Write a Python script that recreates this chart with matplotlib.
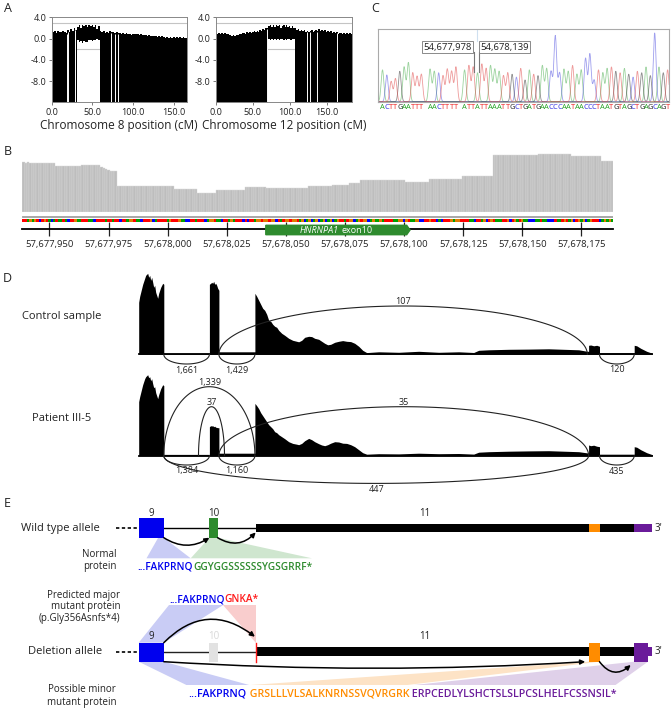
import numpy as np
import matplotlib.pyplot as plt
from matplotlib.patches import Rectangle, Polygon, FancyArrowPatch
from matplotlib.ticker import FormatStrFormatter

plt.rcParams['font.family'] = ['Open Sans', 'DejaVu Sans']

# ---------------- A: chromosome plots (one value per 2 cM) ----------------
chr8_cm = np.arange(0, 167, 2)
chr8_top = [1.5, 1.2, 1.4, 1.1, 1.5, 1.3, 1.2, 1.4, 1.3, 1.0, 1.6, 1.3, 1.8, 1.5, 1.9, 1.7,
            2.2, 2.5, 1.9, 2.6, 2.3, 2.6, 2.1, 2.5, 2.4, 2.6, 2.2, 2.5, 1.8, 2.4,
            1.5, 1.2, 1.4, 1.1, 1.3, 1.0, 1.4, 1.2, 1.3, 1.1,
            1.2, 1.0, 1.1, 0.9, 1.0, 0.8, 1.0, 0.8, 0.9, 0.7,
            0.9, 0.8, 0.9, 0.8, 0.7, 0.8, 0.6, 0.7, 0.6, 0.5,
            0.6, 0.5, 0.5, 0.4, 0.5, 0.3, 0.4, 0.3, 0.4, 0.3,
            0.2, 0.3, 0.2, 0.3, 0.2, 0.3, 0.2, 0.3, 0.2, 0.3,
            0.2, 0.3, 0.2, 0.2]
chr8_gap = (31, 59)
chr8_gap_floor = [-0.3, -0.7, -0.5, -0.8, -0.4, -0.6, -0.7, -0.3, -0.2, -0.5, -0.2, -0.3, -0.1, -0.2]
chr8_breaks = [18.3, 19.5, 28.5, 73, 78, 82]

chr12_cm = np.arange(0, 185, 2)
chr12_top = [1.1, 0.9, 1.0, 0.8, 1.1, 0.9, 1.0, 0.9, 0.8, 0.7, 0.6, 0.5, 0.6, 0.5, 0.6, 0.7, 0.8, 0.9,
             1.0, 1.1, 0.9, 1.2, 1.0, 1.3, 1.1, 1.2, 1.4, 1.2, 1.5, 1.3, 1.6, 1.4, 1.8, 1.6, 2.0, 1.9,
             2.4, 2.6, 2.1, 2.5, 2.2, 2.6, 2.3, 2.5, 2.0, 2.4, 2.6, 2.2, 2.5, 2.1, 2.4, 2.0, 2.3, 1.9,
             1.9, 1.6, 1.8, 1.5, 1.7, 1.4, 1.6, 1.3, 1.5, 1.2, 1.4, 1.6, 1.3, 1.5, 1.7, 1.4, 1.8, 1.5,
             1.7, 1.4, 1.6, 1.3, 1.5, 1.2, 1.4, 1.1, 1.3, 1.0, 1.2, 0.9, 1.1, 1.0, 0.9, 1.1, 0.9, 1.0,
             0.8, 1.0, 0.9]
chr12_gap = (71, 107)
chr12_gap_floor = [-0.1, -0.2, -0.1, -0.3, -0.1, -0.2, -0.1, -0.2, -0.1, -0.1, -0.2, -0.1,
                   -0.2, -0.1, -0.1, -0.2, -0.1, -0.1]
chr12_breaks = [69, 124, 128, 137.5, 163.7]

# ---------------- B: coverage over the deletion ----------------
cov_start = 57677939
cov_counts = [1, 1, 1, 11, 11, 8, 1, 1, 1, 1, 3,
              10, 14, 10, 8, 12, 9, 18, 10, 7, 5, 19, 10, 14, 13,
              19, 14, 13, 5]
cov_values = [50, 49, 50, 49, 46, 47, 45, 44, 43, 42, 41.5,
              26.5, 26, 23, 19.5, 22, 25, 24, 26, 27, 29.5, 32, 30.6, 33, 36,
              57, 58.5, 56, 51]
ref_seq = ("TTAGAGTCTG" "TACATAATAC" "TTGAATTTAA" "CTTTTATTAT" "TCTTAGGTAA"
           "CTTTGCATTT" "TAGTTTGAAC" "CTTATTTCAG" "GTAACTTAGA" "TTTCTCTTAG"
           "GTGGTGGCTA" "TGGTGGTAGC" "AGCAGCAGCA" "GCAGTTATGG" "CAGTGGCAGA"
           "AGATTTTAAG" "GCGTAAGGCC" "TTGTTCACTT" "TGAGGTTTTA" "ACTTAGCTGT"
           "AAATTGCTGA" "TGAACCCAAT" "AACCCTAATG" "TAGCTGAGCA" "GTTTCAGAGA")
ticks_B = [57677950, 57677975, 57678000, 57678025, 57678050,
           57678075, 57678100, 57678125, 57678150, 57678175]
exon10_B = (57678041.5, 57678102.5)

# ---------------- C: Sanger trace across the junction ----------------
seq_C = "ACTTGAATTT AACTTTT ATTATTAAATTGCTGATGAACCCAATAACCCTAATGTAGCTGAGCAGT"
peak_C = [.44, .37, .28, .32, .42, .48, .54, .40, .35, .38, 0,
          .45, .42, .40, .36, .45, .42, .48, 0,
          .44, .50, .48, .40, .52, .46, .50, .45, .42, .36, .40, .38, .34, .46, .30, .44,
          .38, .36, .50, .46, .42, .91, .40, .45, .42, .50, .38, .44, .60, .66, .30, .44,
          .40, .46, .48, .42, .40, .46, .38, .34, .42, .40, .48, .36, .95, .48, .40, .44]
junction_C = ['54,677,978', '54,678,139']

# ---------------- D: sashimi (x = position from exon 9 start) ----------------
cov_x = [0, 0, 1, 2, 3, 4, 5, 6, 7, 8, 9, 10, 11, 12, 13, 14, 15, 16, 17, 18, 19, 20, 21, 22, 23, 24, 25.1, 25.1,
         70.7, 70.7, 72, 73, 74, 75, 76, 77, 78, 79, 80.2, 80.2,
         116.2, 116.2, 118, 120, 122, 124, 126, 128, 130, 132, 134, 136, 138, 140,
         143, 146, 150, 154, 158, 160, 163, 166, 170, 173, 176, 180, 183, 186, 189, 192, 196, 200,
         204, 208, 212, 216, 220, 224, 228,
         240, 260, 280, 300, 320, 335, 340, 350, 370, 390, 410, 425, 440, 448.6, 449.9, 449.9,
         452, 455, 458, 460.8, 460.8, 495.5, 495.5, 498, 502, 508, 513.7, 513.7]
ctrl_cov = [0, 52, 58, 62, 66, 70, 73, 76, 79, 80, 81, 77, 79, 74, 77, 72, 67, 69, 62, 59, 56, 61, 64, 67, 69, 71, 70, 1,
            1, 70, 71, 72, 71, 73, 70, 71, 69, 66, 64, 2.5,
            2.5, 61, 58, 54, 50, 46, 44, 40, 34, 33, 30, 28, 27, 24,
            21, 19, 16, 14, 13, 12.5, 14, 17, 18, 17.7, 16, 15, 13, 11, 9.5, 10, 12, 13,
            13.7, 13, 12.7, 11, 8, 4, 1.7,
            2.5, 2, 3, 2, 2.5, 1.8, 4, 4.5, 5, 5.2, 5.5, 5, 4.5, 3, 3, 9,
            9.3, 8.5, 9, 8, 1.5, 1.5, 9, 8.5, 6, 3, 1, 0]
pat_cov = [0, 54, 59, 63, 67, 71, 74, 77, 79, 80, 81, 78, 79, 75, 77, 72, 68, 69, 63, 60, 57, 61, 64, 67, 69, 71, 70, 1.3,
           1.3, 29, 30, 29.7, 30, 29, 29.5, 28.5, 28.3, 28, 28, 2.5,
           2.5, 52.3, 50, 47, 43, 40, 37, 34, 31, 29, 27, 24, 23, 21,
           19, 17, 14, 12.3, 11.5, 11, 12.3, 15, 17.3, 16, 14, 12, 10.7, 10, 11, 12.5, 14,
           13.7, 12.5, 12.3, 11, 9, 6, 3, 1.5,
           2, 1.8, 2.5, 2, 2.2, 1.6, 3.5, 4, 4.5, 4.8, 5, 4.5, 4, 2.8, 2.8, 10.7,
           10, 10.5, 9.5, 9, 1.5, 1.5, 9, 8.5, 6, 3, 1, 0]
# junctions: start, end, read count
ctrl_junc = [(25.1, 70.7, '1,661'), (80.2, 116.2, '1,429'), (460.8, 495.5, '120'), (80.2, 448.6, '107')]
ctrl_arc = [(-1, 9.7), (-1, 9.7), (-1, 9.7), (1, 48.3)]
pat_junc = [(25.1, 70.7, '1,384'), (80.2, 116.2, '1,160'), (460.8, 495.5, '435'),
            (25.1, 116.2, '1,339'), (59.8, 85.8, '37'), (80.2, 449.9, '35'), (25.1, 449.9, '447')]
pat_arc = [(-1, 9.3), (-1, 9.3), (-1, 9.3), (1, 69), (1, 49), (1, 49), (-1, 27.7)]

# ---------------- E: exon models ----------------
exon9 = (0, 25.1)
exon10 = (70.7, 78.9)
exon11 = (117, 513.7)
orf_orange = (449.9, 460.8)
orf_purple = (495.5, 513.7)
prot_wt = [('...FAKPRNQ', 'blue'), ('GGYGGSSSSSSYGSGRRF*', 'green')]
prot_major = [('...FAKPRNQ', 'blue'), ('GNKA*', 'red')]
prot_minor = [('...FAKPRNQ', 'blue'), (' GRSLLLVLSALKNRNSSVQVRGRK', 'orange'),
              (' ERPCEDLYLSHCTSLSLPCSLHELFCSSNSIL*', 'purple')]

COL = {'blue': '#0000ee', 'green': '#2e8b2e', 'red': '#ff1a1a', 'orange': '#ff8c00', 'purple': '#6a1b9a'}
SHADE = {'blue': '#c9ccf5', 'green': '#cfe6cf', 'red': '#f9cdcd', 'orange': '#fde3c6', 'purple': '#dfd0e9'}
TXT = '#222222'

W, H = 671, 708
fig = plt.figure(figsize=(W / 100, H / 100), dpi=100)


def px_axes(x0, y0, x1, y1):
    return fig.add_axes([x0 / W, 1 - y1 / H, (x1 - x0) / W, (y1 - y0) / H])


# ---- panel A
def chrom_panel(ax, cm, top, gap, gap_floor, breaks, xmax, label):
    cm = np.asarray(cm)
    top = np.asarray(top)
    floor = np.full(len(cm), -12.0)
    floor[(cm > gap[0]) & (cm < gap[1])] = gap_floor
    ax.axhline(3.0, color='#c4c4c4', lw=0.8, zorder=0)
    ax.axhline(-2.0, color='#c4c4c4', lw=0.8, zorder=0)
    ax.fill_between(cm, floor, top, step='mid', color='black', lw=0)
    ax.vlines(breaks, -12, np.interp(breaks, cm, top) - 0.2, color='white', lw=0.7)
    ax.set_xlim(0, xmax)
    ax.set_ylim(-11.9, 4.0)
    ax.set_yticks([4, 0, -4, -8])
    ax.set_xticks([0, 50, 100, 150])
    ax.xaxis.set_major_formatter(FormatStrFormatter('%.1f'))
    ax.yaxis.set_major_formatter(FormatStrFormatter('%.1f'))
    ax.tick_params(labelsize=6.6, length=2.5, width=0.6, color='#666', pad=1.5, labelcolor=TXT)
    for s in ax.spines.values():
        s.set_color('#888')
        s.set_linewidth(0.7)
    ax.set_xlabel(label, fontsize=8.5, labelpad=2, color=TXT)


chrom_panel(px_axes(51.7, 17.3, 186.7, 102), chr8_cm, chr8_top, chr8_gap, chr8_gap_floor,
            chr8_breaks, 166, 'Chromosome 8 position (cM)')
chrom_panel(px_axes(216, 17.3, 352.3, 102), chr12_cm, chr12_top, chr12_gap, chr12_gap_floor,
            chr12_breaks, 185, 'Chromosome 12 position (cM)')

# ---- panel B
cov = np.repeat(cov_values, cov_counts)
pos = cov_start + np.arange(len(cov))
xlimB = (57677938.5, 57678188.5)
axB = px_axes(22.3, 150, 613.3, 212.3)
axB.bar(pos, cov, width=1.0, color='#bdbdbd', edgecolor='#dcdcdc', linewidth=0.3)
axB.set_xlim(*xlimB)
axB.set_ylim(0, 62.3)
axB.axis('off')

base_col = {'A': '#00a000', 'C': '#0000ff', 'G': '#e07b00', 'T': '#ff0000'}
axS = px_axes(22.3, 215.3, 613.3, 222.3)
axS.bar(pos, 3.3, bottom=0.3, width=1.0, color=[base_col[b] for b in ref_seq], lw=0)
axS.axhline(6.3, color='#999', lw=0.6)
axS.axhline(5.0, color='#999', lw=0.6)
axS.set_xlim(*xlimB)
axS.set_ylim(0, 7)
axS.axis('off')

axT = px_axes(22.3, 222, 613.3, 229.3)
axT.set_xlim(*xlimB)
axT.set_ylim(0, 1)
axT.patch.set_visible(False)
for k in ['top', 'left', 'right']:
    axT.spines[k].set_visible(False)
axT.spines['bottom'].set_linewidth(1.3)
axT.set_yticks([])
axT.set_xticks(ticks_B)
axT.set_xticklabels([f'{t:,}' for t in ticks_B])
axT.tick_params(axis='x', direction='inout', length=10, width=0.9, color='#222', labelsize=6.8,
                pad=2.5, labelcolor=TXT)
x0, x1 = exon10_B
axT.add_patch(Polygon([(x0, 0.55), (x1 - 1.4, 0.55), (x1, -0.1), (x1 - 1.4, -0.74), (x0, -0.74)],
                      closed=True, color='#2e8b2e', clip_on=False, zorder=3))
axT.text(57678072.3, -0.1, 'HNRNPA1', style='italic', color='white', fontsize=6.5,
         ha='right', va='center', zorder=4)
axT.text(57678073.6, -0.1, 'exon10', color='white', fontsize=6.5, ha='left', va='center', zorder=4)

# ---- panel C
trace_col = {'A': '#4caf50', 'C': '#5050e0', 'G': '#333333', 'T': '#e04848'}
letter_col = {'A': '#22a022', 'C': '#2a2ae0', 'G': '#222222', 'T': '#ee2020'}
axC = px_axes(378.3, 29.3, 669, 101.7)
xs = np.linspace(-1, 66.4, 1500)
for b in 'ACGT':
    y = np.zeros_like(xs)
    for i, (ch, h) in enumerate(zip(seq_C, peak_C)):
        if ch == b:
            y += h * np.exp(-0.5 * ((xs - i) / 0.32) ** 2)
    axC.plot(xs, y, color=trace_col[b], lw=0.6, alpha=0.55)
for i, ch in enumerate(seq_C):
    if ch != ' ':
        axC.text(i, -0.087, ch, color=letter_col[ch], fontsize=5.4, ha='center', va='center',
                 clip_on=False)
axC.set_xlim(-0.97, 66.32)
axC.set_ylim(0, 1)
axC.set_xticks([])
axC.set_yticks([])
for s in axC.spines.values():
    s.set_color('#aaa')
    s.set_linewidth(0.8)
axC.plot([21.9, 21.9], [0.84, 1.0], color='#cfe0f0', lw=0.8)
axC.plot([21.25, 21.25], [0.41, 0.68], color='#777', lw=0.8)
axC.plot([22.4, 22.4], [0.41, 0.68], color='#777', lw=0.8)
bb = dict(boxstyle='square,pad=0.15', fc='white', ec='#777', lw=0.6)
axC.text(20.6, 0.755, junction_C[0], ha='right', va='center', fontsize=6.8, color=TXT, bbox=bb)
axC.text(22.66, 0.755, junction_C[1], ha='left', va='center', fontsize=6.8, color=TXT, bbox=bb)

# ---- panel D
XL = (-138.7, 532.3)


def sashimi(ax, cov_y, junc, arcs, name):
    ax.fill_between(cov_x, 0, cov_y, color='black', lw=0)
    ax.plot([0, 513.7], [0, 0], color='black', lw=1.3)
    t = np.linspace(0, np.pi, 120)
    for (a, b, n), (side, hgt) in zip(junc, arcs):
        cx, r = (a + b) / 2, (b - a) / 2
        ax.plot(cx + r * np.cos(t), side * hgt * np.sin(t), color='#222', lw=0.8)
        ly = hgt + 4.5 if side > 0 else -(hgt + 6)
        ax.text(cx, ly, n, fontsize=6.5, ha='center', va='center', color=TXT)
    ax.text(-76.9, 37.5, name, fontsize=8, ha='center', va='center', color=TXT)
    ax.set_xlim(*XL)
    ax.axis('off')


axD1 = px_axes(0, 264.3, 671, 374.3)
axD1.set_ylim(-20, 90)
sashimi(axD1, ctrl_cov, ctrl_junc, ctrl_arc, 'Control sample')
axD2 = px_axes(0, 365.7, 671, 493.7)
axD2.set_ylim(-38, 90)
sashimi(axD2, pat_cov, pat_junc, pat_arc, 'Patient III-5')

# ---- panel E
axE = px_axes(0, 500, 671, 708)
axE.set_xlim(*XL)
axE.set_ylim(708, 500)
axE.axis('off')


def box(x, y0, y1, color, z=3):
    axE.add_patch(Rectangle((x[0], y0), x[1] - x[0], y1 - y0, color=color, lw=0, zorder=z))


def shade(pts, color):
    axE.add_patch(Polygon(pts, closed=True, color=SHADE[color], lw=0, zorder=1))


def arrow(p1, p2, rad):
    axE.add_patch(FancyArrowPatch(p1, p2, connectionstyle=f'arc3,rad={rad}', arrowstyle='-|>',
                                  mutation_scale=7, lw=1.1, color='black', shrinkA=0, shrinkB=0,
                                  zorder=4))


def protein(x, y, parts, size):
    t = axE.text(x, y, parts[0][0], color=COL[parts[0][1]], fontsize=size, fontweight='semibold',
                 ha='left', va='center')
    for s, c in parts[1:]:
        t = axE.annotate(s, xy=(1, 0), xycoords=t, ha='left', va='bottom', color=COL[c],
                         fontsize=size, fontweight='semibold')


# wild type allele
yw = 528.3
axE.text(-78, yw, 'Wild type allele', fontsize=8, ha='center', va='center', color=TXT)
axE.plot([-22.7, 0], [yw, yw], color='black', lw=1.2, ls=(0, (2, 1.5)))
axE.plot([exon9[1], exon11[0]], [yw, yw], color='black', lw=1.0, zorder=2)
box(exon9, 518.3, 537.7, COL['blue'])
box(exon10, 518.3, 537.7, COL['green'])
box(exon11, 524.1, 532.4, 'black')
box(orf_orange, 524.1, 532.4, COL['orange'], 4)
box(orf_purple, 524.1, 532.4, COL['purple'], 4)
for lab, xc in [('9', 12.5), ('10', 74.6), ('11', 286.1)]:
    axE.text(xc, 513.3, lab, fontsize=7, ha='center', va='center', color=TXT)
axE.text(515.8, yw, "3'", fontsize=7, ha='left', va='center', color=TXT)
arrow((exon9[1], 537.7), (exon10[0], 537.7), 0.32)
arrow((exon10[1], 537.7), (exon11[0], 532.4), 0.4)
shade([(19.5, 537.7), (25.1, 537.7), (52, 558.3), (7.8, 558.3)], 'blue')
shade([(70.7, 537.7), (78.9, 537.7), (173.3, 558.3), (52, 558.3)], 'green')
axE.text(-22.5, 560.5, 'Normal\nprotein', fontsize=7, ha='right', va='center', color=TXT,
         linespacing=1.15)
protein(-0.9, 567.3, prot_wt, 7.3)

# deletion allele
yd = 651.7
axE.text(-18.2, 607, 'Predicted major\nmutant protein\n(p.Gly356Asnfs*4)', fontsize=7,
         ha='right', va='center', color=TXT, linespacing=1.05)
protein(30.3, 600, prot_major, 7.3)
shade([(0, 642.7), (25.1, 642.7), (84.5, 605), (30.3, 605)], 'blue')
shade([(84.5, 605), (117, 605), (117, 642.7)], 'red')
axE.text(-73.7, yd, 'Deletion allele', fontsize=8, ha='center', va='center', color=TXT)
axE.plot([-22.7, 0], [yd, yd], color='black', lw=1.2, ls=(0, (2, 1.5)))
axE.plot([exon9[1], exon11[0]], [yd, yd], color='#222', lw=1.0, zorder=2)
box(exon10, 642.7, 661.7, '#e2e2e2')
box(exon9, 642.7, 661.7, COL['blue'])
box(exon11, 647.4, 656.0, 'black')
axE.plot([exon11[0], exon11[0]], [642.7, 661.7], color=COL['red'], lw=1.0, zorder=4)
box(orf_orange, 642.7, 661.7, COL['orange'], 4)
box((orf_purple[0], orf_purple[1] - 4.4), 642.7, 661.7, COL['purple'], 4)
box(orf_purple, 647.4, 656.0, COL['purple'], 4)
for lab, xc, c in [('9', 12.5, TXT), ('10', 74.6, '#d8d8d8'), ('11', 286.1, TXT)]:
    axE.text(xc, 636.7, lab, fontsize=7, ha='center', va='center', color=c)
axE.text(515.8, yd, "3'", fontsize=7, ha='left', va='center', color=TXT)
arrow((exon9[1], 642.7), (116.2, 636.7), -0.44)
arrow((exon9[1], 661.7), (446.5, 661.7), 0.031)
arrow((orf_orange[1], 661.7), (492, 665), 0.54)
shade([(0, 661.7), (25.1, 661.7), (110.5, 685), (47.7, 685)], 'blue')
shade([(449.9, 661.7), (460.8, 661.7), (268.8, 685), (111.8, 685)], 'orange')
shade([(495.5, 661.7), (509.3, 661.7), (476.8, 685), (275.3, 685)], 'purple')
axE.text(-22.5, 696, 'Possible minor\nmutant protein', fontsize=7, ha='right', va='center',
         color=TXT, linespacing=1.2)
protein(49.9, 694.3, prot_minor, 7.7)

# panel letters
for lab, x, y in [('A', 4, 8), ('B', 4, 151.7), ('C', 371, 8.3), ('D', 3, 278.3), ('E', 4, 503.3)]:
    fig.text(x / W, 1 - y / H, lab, fontsize=9, ha='left', va='center', color=TXT)

fig.savefig('out.png', dpi=100)
